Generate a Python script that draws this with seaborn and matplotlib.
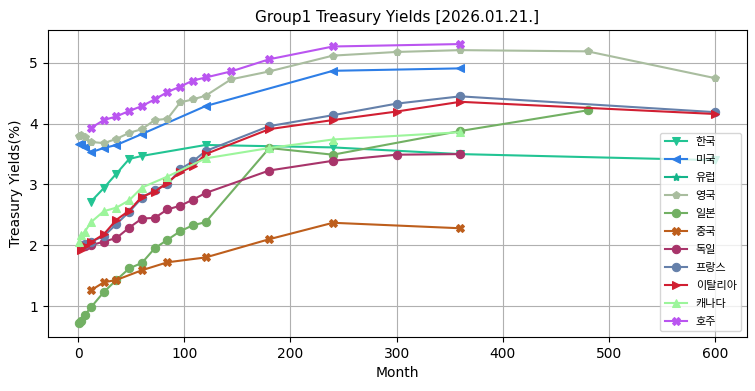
import numpy as np
import pandas as pd
import matplotlib
matplotlib.use("Agg")
import matplotlib.pyplot as plt
import seaborn as sns

plt.rcParams['font.family'] = ['DejaVu Sans', 'Noto Sans CJK KR']
plt.rcParams['axes.unicode_minus'] = False

# ---- data ----
kr_m = [12, 24, 36, 48, 60, 120, 240, 360, 600]
kr_y = [2.72, 2.94, 3.18, 3.42, 3.47, 3.65, 3.61, 3.50, 3.40]

us_m = [1, 3, 6, 12, 24, 36, 60, 120, 240, 360]
us_y = [3.67, 3.66, 3.62, 3.53, 3.60, 3.65, 3.83, 4.29, 4.87, 4.91]

eu_m = []
eu_y = []

uk_m = [1, 3, 6, 12, 24, 36, 48, 60, 72, 84, 96, 108, 120, 144, 180, 240, 300, 360, 480, 600]
uk_y = [3.80, 3.82, 3.78, 3.70, 3.68, 3.75, 3.85, 3.91, 4.06, 4.08, 4.35, 4.40, 4.46, 4.73,
        4.86, 5.12, 5.18, 5.21, 5.19, 4.75]

jp_m = [1, 3, 6, 12, 24, 36, 48, 60, 72, 84, 96, 108, 120, 180, 240, 360, 480]
jp_y = [0.72, 0.76, 0.85, 0.98, 1.23, 1.43, 1.62, 1.71, 1.95, 2.09, 2.23, 2.33, 2.38,
        3.60, 3.49, 3.88, 4.22]

cn_m = [12, 24, 36, 60, 84, 120, 180, 240, 360]
cn_y = [1.26, 1.39, 1.43, 1.59, 1.72, 1.80, 2.10, 2.37, 2.28]

de_m = [3, 6, 12, 24, 36, 48, 60, 72, 84, 96, 108, 120, 180, 240, 300, 360]
de_y = [2.00, 1.98, 2.00, 2.06, 2.12, 2.29, 2.44, 2.45, 2.59, 2.65, 2.75, 2.86,
        3.23, 3.39, 3.49, 3.50]

fr_m = [3, 6, 12, 24, 36, 48, 60, 72, 84, 96, 108, 120, 180, 240, 300, 360, 600]
fr_y = [1.98, 2.02, 2.06, 2.15, 2.35, 2.55, 2.78, 2.91, 3.00, 3.25, 3.38, 3.55,
        3.96, 4.14, 4.33, 4.45, 4.19]

it_m = [3, 6, 12, 24, 36, 48, 60, 72, 84, 96, 108, 120, 180, 240, 300, 360, 600]
it_y = [1.93, 1.98, 2.05, 2.18, 2.42, 2.57, 2.80, 2.88, 3.03, 3.20, 3.30, 3.50,
        3.91, 4.06, 4.20, 4.36, 4.16]

ca_m = [1, 3, 6, 12, 24, 36, 48, 60, 84, 120, 180, 240, 360]
ca_y = [2.05, 2.17, 2.22, 2.38, 2.56, 2.62, 2.74, 2.95, 3.13, 3.43, 3.60, 3.74, 3.86]

au_m = [12, 24, 36, 48, 60, 72, 84, 96, 108, 120, 144, 180, 240, 360]
au_y = [3.93, 4.06, 4.12, 4.21, 4.29, 4.40, 4.52, 4.61, 4.71, 4.76, 4.86, 5.06, 5.27, 5.31]

series = [
    ('한국', kr_m, kr_y, 'v', '#22C493'),
    ('미국', us_m, us_y, '<', '#2E7EE6'),
    ('유럽', eu_m, eu_y, '*', '#14B48A'),
    ('영국', uk_m, uk_y, 'p', '#A9BD9F'),
    ('일본', jp_m, jp_y, 'o', '#72B063'),
    ('중국', cn_m, cn_y, 'X', '#BD5E1C'),
    ('독일', de_m, de_y, 'o', '#A8346A'),
    ('프랑스', fr_m, fr_y, 'o', '#6580AA'),
    ('이탈리아', it_m, it_y, '>', '#D11F32'),
    ('캐나다', ca_m, ca_y, '^', '#9CF59B'),
    ('호주', au_m, au_y, 'X', '#BA55F0'),
]

fig, ax = plt.subplots(figsize=(7.55, 3.91), dpi=100)

for name, m, y, mk, col in series:
    if len(m) == 0:
        # no data for this market, keep the legend entry
        ax.plot([], [], marker=mk, color=col, label=name, markersize=6)
        continue
    df = pd.DataFrame({'Month': m, 'Yield': y})
    sns.lineplot(data=df, x='Month', y='Yield', ax=ax, marker=mk, color=col,
                 markersize=6, markeredgecolor=col, markeredgewidth=0.75,
                 linewidth=1.5, label=name)

ax.grid(True)
ax.set_title('Group1 Treasury Yields [2026.01.21.]', fontsize=11)
ax.set_xlabel('Month')
ax.set_ylabel('Treasury Yields(%)')
ax.legend(loc='lower right', labelspacing=0.72,
          prop={'family': ['Noto Sans CJK KR', 'DejaVu Sans'], 'size': 8})

fig.subplots_adjust(left=0.063, right=0.989, top=0.923, bottom=0.138)
plt.savefig('out.png', dpi=100)
